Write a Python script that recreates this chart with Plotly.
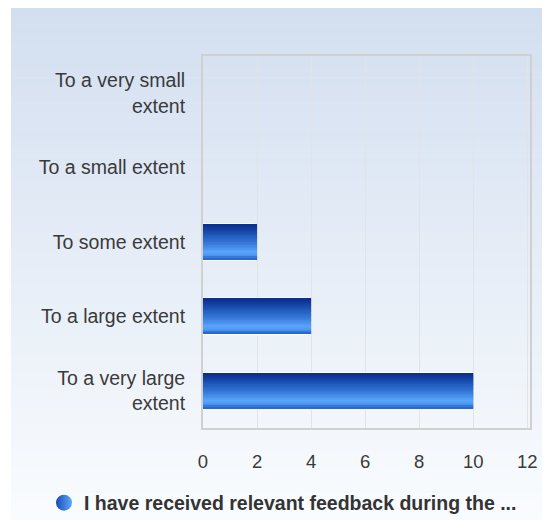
import plotly.graph_objects as go

categories = ["To a very small<br>extent", "To a small extent", "To some extent",
              "To a large extent", "To a very large<br>extent"]
values = [0, 0, 2, 4, 10]
series_name = "I have received relevant feedback during the ..."
x_ticks = [0, 2, 4, 6, 8, 10, 12]

W, H = 550, 520
L, R, T, B = 195, 28, 48, 100
pw, ph = W - L - R, H - T - B

def px_x(px):
    return (px - L) / pw

def px_y(py):
    return (H - B - py) / ph

def lerp(c1, c2, t):
    return tuple(a + (b - a) * t for a, b in zip(c1, c2))

def rgb(c):
    return "rgb(%d,%d,%d)" % tuple(round(v) for v in c)

shapes = []
top_c, bot_c = (211, 223, 240), (250, 252, 254)
N = 60
y0p, y1p = 0, 520
for i in range(N):
    a = y0p + (y1p - y0p) * i / N
    b = y0p + (y1p - y0p) * (i + 1) / N + 0.5
    shapes.append(dict(type="rect", xref="paper", yref="paper", layer="below",
                       x0=px_x(3), x1=px_x(552), y0=px_y(b), y1=px_y(a),
                       fillcolor=rgb(lerp(top_c, bot_c, i / (N - 1))), line=dict(width=0)))

fig = go.Figure()

BW = 0.47
fig.add_trace(go.Bar(x=values, y=categories, orientation="h", width=BW + 0.035,
                     marker=dict(color="white", line=dict(width=0), cornerradius=3),
                     showlegend=False, hoverinfo="skip"))

# vertical gradient of bars approximated by thin overlapping stripes
stops = [(0.0, (10, 45, 140)), (0.3, (30, 88, 185)), (0.6, (62, 130, 225)),
         (0.78, (90, 166, 252)), (0.88, (80, 150, 240)), (1.0, (35, 95, 200))]

def grad(t):
    for (t0, c0), (t1, c1) in zip(stops, stops[1:]):
        if t <= t1:
            return lerp(c0, c1, (t - t0) / (t1 - t0))
    return stops[-1][1]

n = 28
sw = BW / n
for k in range(n):
    c = rgb(grad((k + 0.5) / n))
    w = sw * 1.6 if k < n - 1 else sw
    fig.add_trace(go.Bar(x=values, y=categories, orientation="h",
                         width=w, offset=-BW / 2 + k * sw,
                         marker=dict(color=c, line=dict(width=0)),
                         showlegend=False, hoverinfo="skip"))

fig.add_trace(go.Scatter(x=[None], y=[None], mode="markers", name=series_name,
                         marker=dict(size=16, color="#1a4cb4", line=dict(width=0),
                                     gradient=dict(type="horizontal", color="#5ea8fc"))))

fig.update_layout(
    width=W, height=H,
    margin=dict(l=L, r=R, t=T, b=B),
    paper_bgcolor="white",
    plot_bgcolor="rgba(255,255,255,0.3)",
    barmode="overlay",
    shapes=shapes,
    font=dict(family="Liberation Sans, Arial, sans-serif", size=19.5, color="#3a3a3a"),
    showlegend=True,
    legend=dict(orientation="h", xref="container", yref="container",
                x=0.5, xanchor="center", y=0.048, yanchor="middle",
                font=dict(size=19.5, color="#333333", weight="bold"),
                itemsizing="trace", bgcolor="rgba(0,0,0,0)"),
    xaxis=dict(range=[0, 12.1], tickvals=x_ticks, ticktext=[str(v) for v in x_ticks],
               showgrid=True, gridcolor="#e1e3e8", gridwidth=1, zeroline=False,
               showline=True, linecolor="#d0d0d0", linewidth=2, mirror=True,
               ticks="outside", ticklen=16, tickcolor="rgba(0,0,0,0)",
               tickfont=dict(size=18.5, color="#3a3a3a"), fixedrange=True),
    yaxis=dict(autorange="reversed", showgrid=False, zeroline=False,
               showline=True, linecolor="#d0d0d0", linewidth=2, mirror=True,
               ticks="outside", ticklen=12, tickcolor="rgba(0,0,0,0)",
               tickfont=dict(size=19.5, color="#3a3a3a"), fixedrange=True),
)

fig.write_html("out.html")
